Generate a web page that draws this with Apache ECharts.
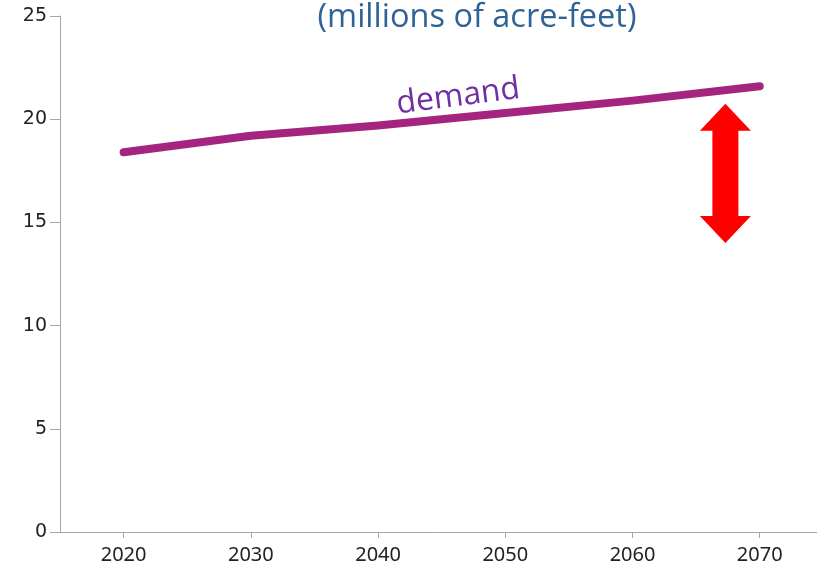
<!DOCTYPE html>
<html>
<head>
<meta charset="utf-8">
<script src="https://cdn.jsdelivr.net/npm/echarts@6/dist/echarts.min.js"></script>
<style>html,body{margin:0;padding:0;background:#fff}#c{width:817px;height:575px}</style>
</head>
<body>
<div id="c"></div>
<script>
const years = [2020, 2030, 2040, 2050, 2060, 2070];
const demand = [18.4, 19.2, 19.7, 20.3, 20.9, 21.6];
const yTicks = [0, 5, 10, 15, 20, 25];
const titleText = '(millions of acre-feet)';
const seriesLabel = 'demand';
// gap arrow annotation (data units)
const arrowYear = 2067.3;
const arrowTopVal = 20.75, arrowBottomVal = 14.0;

const chart = echarts.init(document.getElementById('c'));
const option = {
  animation: false,
  title: {
    text: titleText, left: 472, top: -4, textAlign: 'center',
    textStyle: { color: '#2F6397', fontSize: 32.5, fontWeight: 'normal', fontFamily: 'Open Sans, sans-serif' }
  },
  grid: { left: 60, top: 16, bottom: 43, right: 0 },
  xAxis: {
    type: 'value', min: 2015, max: 2074.5,
    splitLine: { show: false },
    axisLine: { onZero: false, lineStyle: { color: '#A6A6A6', width: 1 } },
    axisTick: { length: 6, lineStyle: { color: '#A6A6A6' }, customValues: years },
    axisLabel: { color: '#222', fontSize: 20, margin: 13, fontFamily: 'Noto Sans, sans-serif', customValues: years,
      formatter: v => String(v) }
  },
  yAxis: {
    type: 'value', min: 0, max: 25, interval: 5,
    splitLine: { show: false },
    axisLine: { show: true, lineStyle: { color: '#A6A6A6', width: 1 } },
    axisTick: { show: true, length: 10, lineStyle: { color: '#A6A6A6' } },
    axisLabel: { color: '#222', fontSize: 19, margin: 13, fontFamily: 'DejaVu Sans, sans-serif',
      formatter: v => yTicks.includes(v) ? String(v) : '' }
  },
  series: [{
    type: 'line', data: years.map((y, i) => [y, demand[i]]), symbol: 'none',
    lineStyle: { color: '#A4247F', width: 8, cap: 'round', join: 'round' }
  }]
};
chart.setOption(option);

function drawExtras() {
  const top = chart.convertToPixel({ seriesIndex: 0 }, [arrowYear, arrowTopVal]);
  const bot = chart.convertToPixel({ seriesIndex: 0 }, [arrowYear, arrowBottomVal]);
  const cx = top[0], yt = top[1], yb = bot[1];
  const sw = 13, hw = 25.5, hh = 27;
  const pts = [
    [cx, yt], [cx + hw, yt + hh], [cx + sw, yt + hh], [cx + sw, yb - hh], [cx + hw, yb - hh],
    [cx, yb], [cx - hw, yb - hh], [cx - sw, yb - hh], [cx - sw, yt + hh], [cx - hw, yt + hh]
  ];
  // label position: along the line between 2040 and 2050
  const a = chart.convertToPixel({ seriesIndex: 0 }, [years[2], demand[2]]);
  const b = chart.convertToPixel({ seriesIndex: 0 }, [years[3], demand[3]]);
  const lx = a[0] + (b[0] - a[0]) * 0.63;
  const ly = a[1] + (b[1] - a[1]) * 0.63 - 21;
  const ang = Math.atan2(a[1] - b[1], b[0] - a[0]) + 0.03;
  chart.setOption({
    graphic: [
      { type: 'polygon', shape: { points: pts }, style: { fill: '#FF0000' }, z: 10 },
      { type: 'text', x: lx, y: ly, rotation: ang,
        style: { text: seriesLabel, fill: '#7030A0', fontSize: 32, fontFamily: 'Open Sans, sans-serif',
          align: 'center', verticalAlign: 'middle' }, z: 10 }
    ]
  });
}
drawExtras();
</script>
</body>
</html>
